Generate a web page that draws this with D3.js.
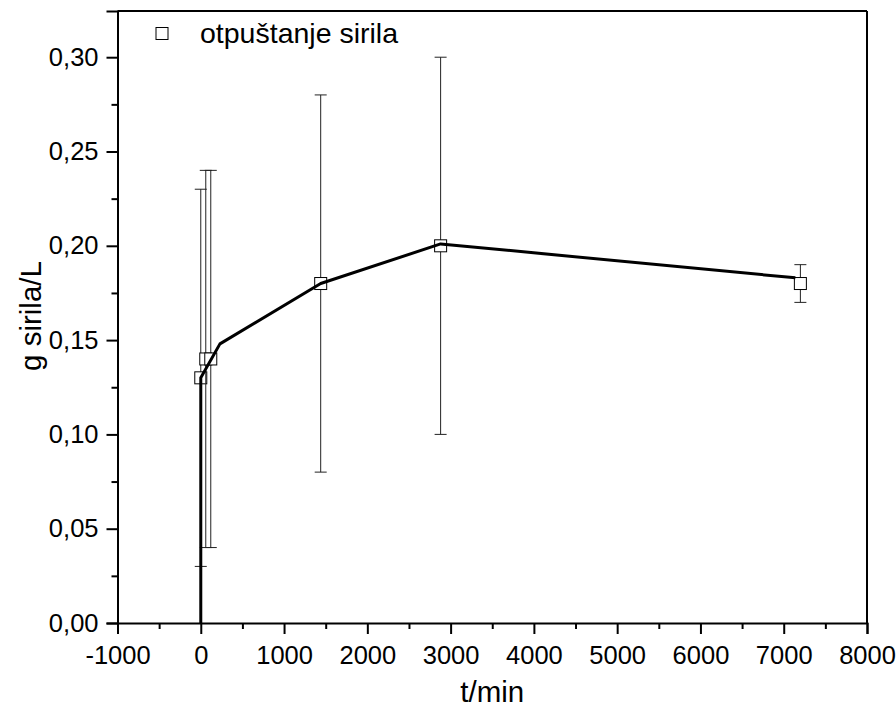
<!DOCTYPE html>
<html>
<head>
<meta charset="utf-8">
<script src="https://cdn.jsdelivr.net/npm/d3@7"></script>
<style>
  body { margin: 0; background: #fff; }
  text { font-family: "Liberation Sans", Arial, sans-serif; fill: #000; }
</style>
</head>
<body>
<div id="chart"></div>
<script>
// measured points (t in min, g sirila/L) with symmetric error
const times = [0, 60, 120, 1440, 2880, 7200]
const values = [0.13, 0.14, 0.14, 0.18, 0.20, 0.18]
const errors = [0.10, 0.10, 0.10, 0.10, 0.10, 0.01]

// the black trend line drawn over the points
const lineTimes = [0, 0, 230, 1440, 2880, 7140]
const lineValues = [0, 0.13, 0.148, 0.18, 0.201, 0.183]

const xTicks = [-1000, 0, 1000, 2000, 3000, 4000, 5000, 6000, 7000, 8000]
const xMinor = [-500, 500, 1500, 2500, 3500, 4500, 5500, 6500, 7500]
const yTicks = [0, 0.05, 0.10, 0.15, 0.20, 0.25, 0.30]
const yMinor = [0.025, 0.075, 0.125, 0.175, 0.225, 0.275]

const legendLabel = "otpuštanje sirila"
const xTitle = "t/min"
const yTitle = "g sirila/L"

const width = 896
const height = 716
const pLeft = 117.5, pRight = 867, pTop = 11, pBottom = 623

const svg = d3.select("#chart")
  .append("svg")
  .attr("width", width)
  .attr("height", height)

const x = d3.scaleLinear()
  .domain([-1000, 8000])
  .range([pLeft, pRight])

const y = d3.scaleLinear()
  .domain([0, 0.3245])
  .range([pBottom, pTop])

// error bars + markers
const data = times.map((t, i) => ({t, v: values[i], e: errors[i]}))
const pts = svg.append("g")

data.forEach(d => {
  const g = pts.append("g")
  const cx = x(d.t)
  g.append("line")
    .attr("x1", cx).attr("x2", cx)
    .attr("y1", y(d.v - d.e)).attr("y2", y(d.v + d.e))
    .attr("stroke", "#222").attr("stroke-width", 1)
  ;[d.v - d.e, d.v + d.e].forEach(v => {
    g.append("line")
      .attr("x1", cx - 6).attr("x2", cx + 6)
      .attr("y1", y(v)).attr("y2", y(v))
      .attr("stroke", "#222").attr("stroke-width", 1)
  })
  g.append("rect")
    .attr("x", cx - 6).attr("y", y(d.v) - 6)
    .attr("width", 12).attr("height", 12)
    .attr("fill", "#fff")
    .attr("stroke", "#000").attr("stroke-width", 1)
})

// trend line
const lineData = lineTimes.map((t, i) => ({t, v: lineValues[i]}))
svg.append("path")
  .datum(lineData)
  .attr("fill", "none")
  .attr("stroke", "#000")
  .attr("stroke-width", 3)
  .attr("stroke-linejoin", "round")
  .attr("d", d3.line()
    .x(d => x(d.t))
    .y(d => y(d.v))
  )

// frame top + right
svg.append("line")
  .attr("x1", pLeft).attr("x2", pRight).attr("y1", pTop).attr("y2", pTop)
  .attr("stroke", "#000").attr("stroke-width", 2)
svg.append("line")
  .attr("x1", pRight).attr("x2", pRight).attr("y1", pTop).attr("y2", pBottom)
  .attr("stroke", "#000").attr("stroke-width", 2)

// bottom axis
svg.append("g")
  .attr("transform", `translate(0, ${pBottom})`)
  .call(d3.axisBottom(x).tickValues(xTicks).tickSize(11).tickPadding(12).tickFormat(d => String(d)))
svg.append("g")
  .attr("transform", `translate(0, ${pBottom})`)
  .call(d3.axisBottom(x).tickValues(xMinor).tickSize(6).tickFormat(""))
  .call(g => g.select(".domain").remove())

// left axis
svg.append("g")
  .attr("transform", `translate(${pLeft}, 0)`)
  .call(d3.axisLeft(y).tickValues(yTicks).tickSize(11).tickPadding(8)
    .tickFormat(d => d3.format(".2f")(d).replace(".", ",")))
svg.append("g")
  .attr("transform", `translate(${pLeft}, 0)`)
  .call(d3.axisLeft(y).tickValues(yMinor).tickSize(6).tickFormat(""))
  .call(g => g.select(".domain").remove())

svg.selectAll(".domain").attr("stroke-width", 2)
svg.selectAll(".tick line").attr("stroke-width", 2)
svg.selectAll(".tick text")
  .style("font-family", "'Liberation Sans', Arial, sans-serif")
  .style("font-size", "25.5px")

// titles
svg.append("text")
  .attr("x", (pLeft + pRight) / 2)
  .attr("y", 702)
  .attr("text-anchor", "middle")
  .style("font-size", "29.5px")
  .text(xTitle)

svg.append("text")
  .attr("transform", `translate(41, 316) rotate(-90)`)
  .attr("text-anchor", "middle")
  .style("font-size", "29.5px")
  .text(yTitle)

// legend
svg.append("rect")
  .attr("x", 156).attr("y", 27.5)
  .attr("width", 12).attr("height", 12)
  .attr("fill", "#fff").attr("stroke", "#000").attr("stroke-width", 1)
svg.append("text")
  .attr("x", 200)
  .attr("y", 42.5)
  .style("font-size", "28.5px")
  .text(legendLabel)
</script>
</body>
</html>
